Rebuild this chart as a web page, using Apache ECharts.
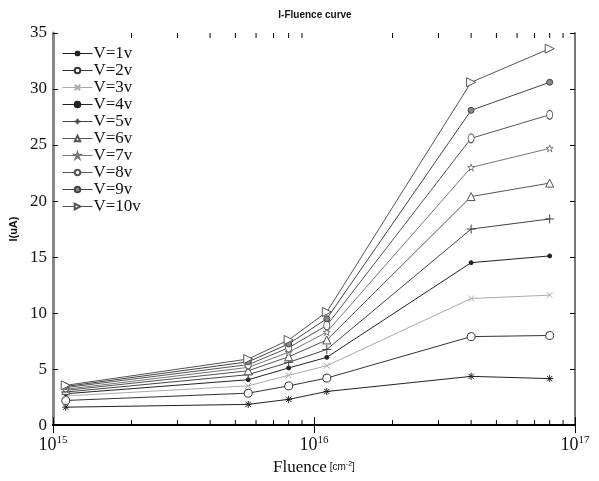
<!DOCTYPE html>
<html>
<head>
<meta charset="utf-8">
<script src="https://cdn.jsdelivr.net/npm/echarts@6/dist/echarts.min.js"></script>
<style>
  html, body { margin: 0; padding: 0; background: #fff; }
  #main { width: 599px; height: 481px; }
</style>
</head>
<body>
<div id="main"></div>
<script>
// fluence points (cm^-2)
const fluence = [1.12e15, 5.6e15, 8e15, 1.12e16, 4e16, 8e16];
// current (uA) per bias voltage
const v1 = [1.6, 1.85, 2.3, 3.0, 4.35, 4.15];
const v2 = [2.2, 2.85, 3.5, 4.2, 7.9, 8.0];
const v3 = [2.6, 3.5, 4.45, 5.3, 11.3, 11.6];
const v4 = [2.8, 4.05, 5.1, 6.05, 14.5, 15.1];
const v5 = [2.95, 4.5, 5.6, 6.75, 17.5, 18.4];
const v6 = [3.1, 4.85, 6.1, 7.6, 20.4, 21.6];
const v7 = [3.2, 5.15, 6.5, 8.3, 23.0, 24.7];
const v8 = [3.35, 5.4, 6.9, 8.9, 25.6, 27.7];
const v9 = [3.45, 5.65, 7.25, 9.5, 28.1, 30.6];
const v10 = [3.55, 5.9, 7.6, 10.1, 30.6, 33.6];
const names = ['V=1v', 'V=2v', 'V=3v', 'V=4v', 'V=5v', 'V=6v', 'V=7v', 'V=8v', 'V=9v', 'V=10v'];
const minorTicks = [2e15, 3e15, 4e15, 5e15, 6e15, 7e15, 8e15, 9e15,
                    2e16, 3e16, 4e16, 5e16, 6e16, 7e16, 8e16, 9e16];

const chart = echarts.init(document.getElementById('main'));

// marker look for each curve (matlab style); fill '#fff' = open marker
const looks = [
  { c: '#222', s: 'path://M0,4L8,4M4,0L4,8M1,1L7,7M7,1L1,7', size: 7, fill: '#222' },
  { c: '#333', s: 'path://M4,0A4,4,0,1,1,3.99,0Z', size: 8, fill: '#fff' },
  { c: '#aaa', s: 'path://M0,0L8,8M8,0L0,8', size: 6, fill: '#aaa' },
  { c: '#222', s: 'circle', size: 4, fill: '#222' },
  { c: '#444', s: 'path://M0,4L8,4M4,0L4,8', size: 9, fill: '#444' },
  { c: '#555', s: 'path://M4,0L8,8L0,8Z', size: 8, fill: '#fff' },
  { c: '#777', s: 'path://M4,0L5,3L8,3L5.5,5L6.5,8L4,6L1.5,8L2.5,5L0,3L3,3Z', size: 7, fill: '#fff' },
  { c: '#555', s: 'path://M4,0A4,4,0,1,1,3.99,0Z', size: [6, 9], fill: '#fff' },
  { c: '#444', s: 'circle', size: 6, fill: '#888' },
  { c: '#555', s: 'path://M0,0L8,4L0,8Z', size: 9, fill: '#fff' }
];
const values = [v1, v2, v3, v4, v5, v6, v7, v8, v9, v10];

const lineSeries = values.map((vals, i) => {
  const lk = looks[i];
  return {
    name: names[i],
    type: 'line',
    data: vals.map((y, k) => [fluence[k], y]),
    symbol: lk.s,
    symbolSize: lk.size,
    showAllSymbol: true,
    lineStyle: { color: lk.c, width: 1 },
    itemStyle: { color: lk.fill, borderColor: lk.c, borderWidth: 1 },
    emphasis: { disabled: true },
    z: 3
  };
});

// minor ticks of the log axis (2..9 in every decade), bottom and top
const tickSeries = {
  type: 'custom',
  silent: true,
  data: minorTicks.map(v => [v]),
  encode: { x: 0 },
  clip: false,
  renderItem: function (params, api) {
    const b = api.coord([api.value(0), 0]);
    const t = api.coord([api.value(0), 35]);
    return {
      type: 'group',
      children: [
        { type: 'line', shape: { x1: b[0], y1: b[1], x2: b[0], y2: b[1] - 5 }, style: { stroke: '#000', lineWidth: 1 } },
        { type: 'line', shape: { x1: t[0], y1: t[1], x2: t[0], y2: t[1] + 5 }, style: { stroke: '#000', lineWidth: 1 } }
      ]
    };
  },
  z: 2
};

const serif = 'Liberation Serif';
const option = {
  backgroundColor: '#fff',
  animation: false,
  title: {
    text: 'I-Fluence curve',
    left: 310,
    top: 5,
    textAlign: 'center',
    textStyle: { fontFamily: 'Liberation Sans', fontSize: 10, fontWeight: 'bold', color: '#111' }
  },
  legend: {
    data: names,
    orient: 'vertical',
    left: 58,
    top: 43,
    itemWidth: 30,
    itemHeight: 7,
    itemGap: 0,
    backgroundColor: '#fff',
    padding: [2, 4, 2, 4],
    lineStyle: { width: 1 },
    textStyle: { fontFamily: serif, fontSize: 17, color: '#111', lineHeight: 17, padding: [0, 0, 0, -4] }
  },
  grid: { left: 45, right: 24, top: 33, bottom: 43 },
  xAxis: [{
    type: 'log',
    logBase: 10,
    min: 1e15,
    max: 1e17,
    name: '{a|Fluence}{b| [cm}{c|-2}{b|]}',
    nameLocation: 'middle',
    nameGap: 24,
    nameTextStyle: {
      rich: {
        a: { fontFamily: serif, fontSize: 17, color: '#111' },
        b: { fontFamily: 'Liberation Sans', fontSize: 10, color: '#111' },
        c: { fontFamily: 'Liberation Sans', fontSize: 7, color: '#111', padding: [0, 0, 7, 0] }
      }
    },
    axisLine: { lineStyle: { color: '#000', width: 1.5 } },
    axisTick: { inside: true, length: 8, lineStyle: { color: '#000' } },
    splitLine: { show: false },
    axisLabel: {
      margin: 10,
      formatter: function (v) {
        return '{a|10}{b|' + Math.round(Math.log10(v)) + '}';
      },
      rich: {
        a: { fontFamily: serif, fontSize: 18, color: '#111' },
        b: { fontFamily: serif, fontSize: 11, color: '#111', padding: [0, 0, 9, 0] }
      }
    }
  }, {
    type: 'log',
    logBase: 10,
    min: 1e15,
    max: 1e17,
    position: 'top',
    axisLine: { lineStyle: { color: '#000', width: 2 } },
    axisTick: { inside: true, length: 8, lineStyle: { color: '#000' } },
    axisLabel: { show: false },
    splitLine: { show: false }
  }],
  yAxis: [{
    type: 'value',
    min: 0,
    max: 35,
    interval: 5,
    name: 'I(uA)',
    nameLocation: 'middle',
    nameGap: 22,
    nameTextStyle: { fontFamily: 'Liberation Sans', fontSize: 11, fontWeight: 'bold', color: '#111' },
    axisLine: { lineStyle: { color: '#888', width: 3 } },
    axisTick: { inside: true, length: 5, lineStyle: { color: '#000' } },
    splitLine: { show: false },
    axisLabel: { fontFamily: serif, fontSize: 17, color: '#111', margin: 6 }
  }, {
    type: 'value',
    min: 0,
    max: 35,
    interval: 5,
    position: 'right',
    axisLine: { lineStyle: { color: '#777', width: 2 } },
    axisTick: { inside: true, length: 5, lineStyle: { color: '#000' } },
    axisLabel: { show: false },
    splitLine: { show: false }
  }],
  series: lineSeries.concat([tickSeries])
};

chart.setOption(option);
</script>
</body>
</html>
